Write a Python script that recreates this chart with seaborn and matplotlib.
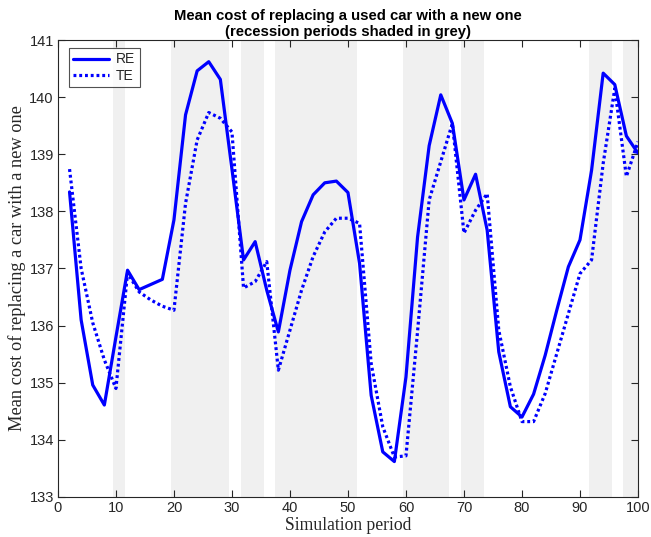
import matplotlib
matplotlib.use("Agg")
import matplotlib.pyplot as plt
import seaborn as sns
import pandas as pd
import numpy as np

periods = list(range(2, 101, 2))
re_values = [138.34, 136.10, 134.96, 134.61, 135.80, 136.97, 136.63, 136.72, 136.81, 137.85,
             139.69, 140.46, 140.62, 140.31, 138.74, 137.15, 137.47, 136.62, 135.89, 136.97,
             137.82, 138.29, 138.50, 138.53, 138.33, 137.09, 134.78, 133.79, 133.62, 135.10,
             137.55, 139.15, 140.04, 139.54, 138.20, 138.65, 137.67, 135.54, 134.58, 134.40,
             134.80, 135.48, 136.27, 137.03, 137.50, 138.72, 140.42, 140.22, 139.32, 139.02]
te_values = [138.74, 137.00, 136.05, 135.40, 134.90, 136.92, 136.59, 136.45, 136.34, 136.27,
             138.14, 139.25, 139.73, 139.63, 139.39, 136.66, 136.77, 137.12, 135.22, 135.92,
             136.62, 137.21, 137.64, 137.88, 137.88, 137.79, 135.34, 134.23, 133.70, 133.72,
             135.90, 138.20, 138.87, 139.54, 137.62, 138.02, 138.31, 135.92, 134.93, 134.32,
             134.32, 134.81, 135.51, 136.21, 136.91, 137.15, 138.84, 140.15, 138.61, 139.22]
recession_starts = [9.5, 19.5, 31.5, 37.5, 59.5, 69.5, 91.5, 97.5]
recession_ends = [11.5, 29.5, 35.5, 51.5, 67.5, 73.5, 95.5, 100.5]
x_ticks = list(range(0, 101, 10))
y_ticks = list(range(133, 142))

sns.set_theme(style="white")
plt.rcParams['font.family'] = ['Liberation Sans', 'DejaVu Sans']

df = pd.DataFrame({"period": periods * 2,
                   "value": re_values + te_values,
                   "model": ["RE"] * len(periods) + ["TE"] * len(periods)})

fig = plt.figure(figsize=(6.51, 5.37), dpi=100)
ax = fig.add_axes([0.089, 0.0745, 0.891, 0.851])

for s, e in zip(recession_starts, recession_ends):
    ax.axvspan(s, e, color="#f0f0f0", lw=0, zorder=0)

sns.lineplot(data=df[df.model == "RE"], x="period", y="value", ax=ax,
             color="#0000ff", lw=2.3, label="RE", zorder=3)
sns.lineplot(data=df[df.model == "TE"], x="period", y="value", ax=ax,
             color="#0000ff", lw=2.3, linestyle=(0, (0.9, 0.9)), label="TE", zorder=3)

ax.set_xlim(0, 100)
ax.set_ylim(133, 141)
ax.set_xticks(x_ticks)
ax.set_yticks(y_ticks)
ax.tick_params(direction="in", length=5, width=0.8, colors="#262626",
               labelsize=10.5, top=True, right=True, bottom=True, left=True, pad=3)
for sp in ax.spines.values():
    sp.set_visible(True)
    sp.set_color("#262626")
    sp.set_linewidth(0.8)

ax.set_xlabel("Simulation period", family=["Liberation Serif"], fontsize=12.7,
              color="#262626", labelpad=1)
ax.set_ylabel("Mean cost of replacing a car with a new one", family=["Liberation Serif"],
              fontsize=13.2, color="#262626", labelpad=2)
ax.set_title("Mean cost of replacing a used car with a new one\n(recession periods shaded in grey)",
             fontsize=10.7, fontweight="bold", color="black", pad=3, linespacing=1.15)

leg = ax.legend(loc="upper left", bbox_to_anchor=(0.019, 0.982), borderaxespad=0,
                frameon=True, fontsize=10, handlelength=2.6, borderpad=0.3,
                labelspacing=0.2, handletextpad=0.5, fancybox=False, edgecolor="#262626")
leg.get_frame().set_linewidth(0.8)

fig.savefig("out.png", dpi=100)
